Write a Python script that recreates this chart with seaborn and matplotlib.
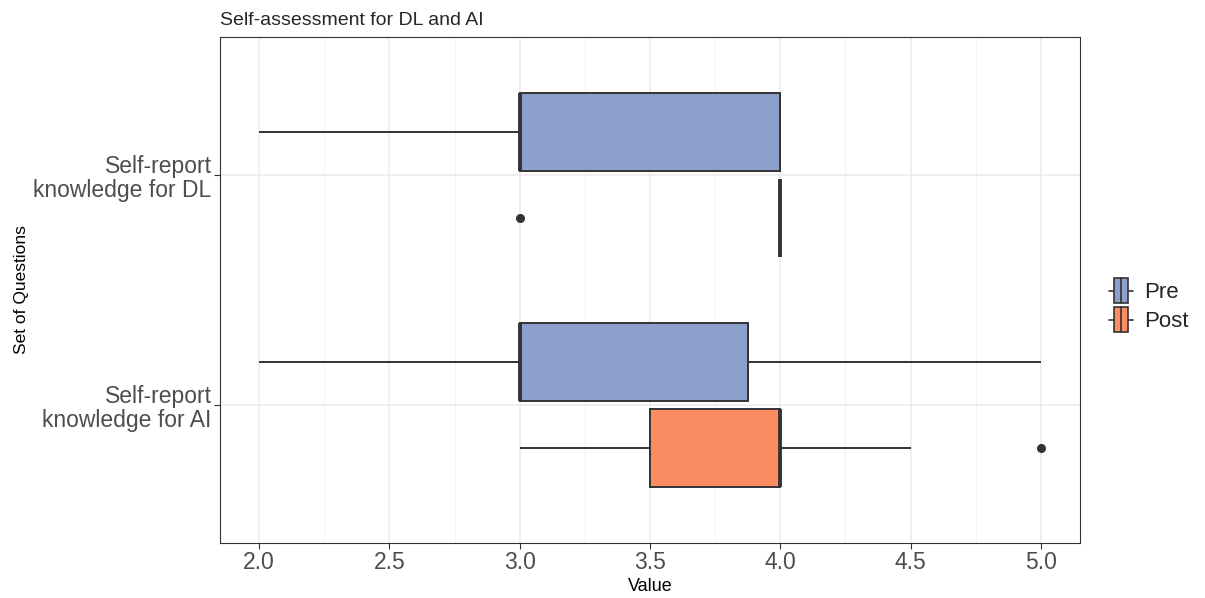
import numpy as np
import pandas as pd
import matplotlib
matplotlib.use("Agg")
import matplotlib.pyplot as plt
import seaborn as sns
from matplotlib.ticker import MultipleLocator
from matplotlib.legend_handler import HandlerBase
from matplotlib.patches import Rectangle, Patch
from matplotlib.lines import Line2D

# questions and phases
questions = ["Self-report\nknowledge for DL", "Self-report\nknowledge for AI"]
phases = ["Pre", "Post"]
colors = {"Pre": "#8DA0CB", "Post": "#FC8D62"}

# responses
dl_pre = [2, 3, 3, 3, 4, 4, 4]
dl_post = [3, 4, 4, 4, 4, 4]
ai_pre = [2, 3, 3, 3, 3, 3, 3.5, 4, 4, 5]
ai_post = [3, 3.5, 3.5, 4, 4, 4, 4, 4.5, 5]

rows = []
for q, ph, vals in [(questions[0], "Pre", dl_pre), (questions[0], "Post", dl_post),
                    (questions[1], "Pre", ai_pre), (questions[1], "Post", ai_post)]:
    for v in vals:
        rows.append({"question": q, "phase": ph, "value": v})
df = pd.DataFrame(rows)


class BoxKey(HandlerBase):
    # ggplot-like boxplot legend key
    def create_artists(self, legend, orig_handle, xdescent, ydescent,
                       width, height, fontsize, trans):
        x0, y0 = -xdescent, -ydescent
        bw = width * 0.6
        bx = x0 + (width - bw) / 2
        ym = y0 + height / 2
        box = Rectangle((bx, y0), bw, height, facecolor=orig_handle.get_facecolor(),
                        edgecolor="#333333", linewidth=1.2, transform=trans)
        med = Line2D([x0 + width / 2] * 2, [y0, y0 + height], color="#333333",
                     linewidth=1.2, transform=trans)
        w1 = Line2D([x0, bx], [ym, ym], color="#333333", linewidth=1.2, transform=trans)
        w2 = Line2D([bx + bw, x0 + width], [ym, ym], color="#333333", linewidth=1.2,
                    transform=trans)
        return [w1, w2, box, med]


sns.set_theme(style="white")
plt.rcParams["font.family"] = ["Liberation Sans", "DejaVu Sans"]

fig = plt.figure(figsize=(12.05, 5.98), dpi=100)
ax = fig.add_axes([0.1826, 0.092, 0.7137, 0.846])

sns.boxplot(
    data=df, x="value", y="question", hue="phase",
    order=questions, hue_order=phases,
    palette=colors, saturation=1,
    orient="h", width=0.75, gap=0.1, whis=1.5,
    linecolor="#333333", linewidth=1.4, showcaps=False,
    medianprops={"linewidth": 2.8, "color": "#333333"},
    flierprops={"marker": "o", "markersize": 5.5, "markerfacecolor": "#333333",
                "markeredgecolor": "#333333"},
    legend=False, ax=ax,
)

ax.set_axisbelow(True)
ax.xaxis.set_major_locator(MultipleLocator(0.5))
ax.xaxis.set_minor_locator(MultipleLocator(0.25))
ax.grid(True, which="major", axis="both", color="#EBEBEB", linewidth=1.1)
ax.grid(True, which="minor", axis="x", color="#F2F2F2", linewidth=0.7)

ax.set_xlim(1.85, 5.15)
ax.set_ylim(1.6, -0.6)

for s in ax.spines.values():
    s.set_color("#333333")
    s.set_linewidth(0.8)

ax.tick_params(axis="both", which="major", length=4, width=0.8, color="#333333",
               labelsize=16.5, labelcolor="#4D4D4D", bottom=True, left=True, pad=2)
ax.tick_params(axis="x", which="minor", length=0)
ax.set_xticklabels([f"{t:.1f}" for t in ax.get_xticks()])
for lbl in ax.get_yticklabels():
    lbl.set_horizontalalignment("right")
    lbl.set_multialignment("right")
    lbl.set_linespacing(1.1)

ax.set_xlabel("Value", fontsize=13, color="black", labelpad=3)
ax.set_ylabel("Set of Questions", fontsize=12.5, color="black")
ax.yaxis.set_label_coords(-0.222, 0.5)
ax.set_title("Self-assessment for DL and AI", loc="left", fontsize=14, pad=9)

handles = [Patch(facecolor=colors[p]) for p in phases]
ax.legend(handles, phases, handler_map={Patch: BoxKey()},
          loc="center left", bbox_to_anchor=(1.01, 0.47), frameon=False,
          fontsize=16, handlelength=1.1, handleheight=1.3,
          handletextpad=0.5, labelspacing=0.2)

fig.savefig("out.png", dpi=100)
